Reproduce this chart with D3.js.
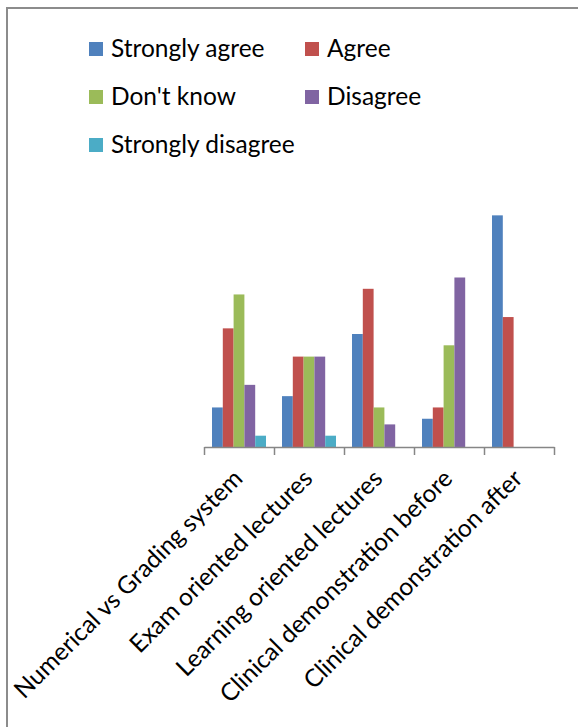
<!DOCTYPE html>
<html>
<head>
<meta charset="utf-8">
<script src="https://cdn.jsdelivr.net/npm/d3@7"></script>
<style>
  body { margin: 0; background: #fff; }
  svg text { font-family: Lato, "Noto Sans", sans-serif; fill: #000; }
</style>
</head>
<body>
<svg id="chart" width="578" height="727"></svg>
<script>
// categories along the x axis
const categories = [
  "Numerical vs Grading system",
  "Exam oriented lectures",
  "Learning oriented lectures",
  "Clinical demonstration before",
  "Clinical demonstration after"
];

// one series per answer
const seriesNames = ["Strongly agree", "Agree", "Don't know", "Disagree", "Strongly disagree"];
const seriesColors = ["#4F81BD", "#C0504D", "#9BBB59", "#8064A2", "#4BACC6"];

// values, one array per series (same order as categories)
const stronglyAgree = [7, 9, 20, 5, 41];
const agree = [21, 16, 28, 7, 23];
const dontKnow = [27, 16, 7, 18, 0];
const disagree = [11, 16, 4, 30, 0];
const stronglyDisagree = [2, 2, 0, 0, 0];

const seriesValues = [stronglyAgree, agree, dontKnow, disagree, stronglyDisagree];

function drawChart() {
  const svg = d3.select("#chart");

  // frame round the chart area (clipped at right and bottom like the picture)
  svg.append("path")
    .attr("d", "M7,727 L7,8 L578,8")
    .attr("fill", "none")
    .attr("stroke", "#8c8c8c")
    .attr("stroke-width", 2);

  const baseY = 447;
  const x0 = d3.scaleBand().domain(categories).range([204, 554]);
  const x1 = d3.scaleBand().domain(seriesNames).range([8, 62]);
  const y = d3.scaleLinear().domain([0, 45]).range([baseY, baseY - 45 * 5.65]);
  const color = d3.scaleOrdinal().domain(seriesNames).range(seriesColors);

  // bars
  const groups = svg.append("g")
    .selectAll("g")
    .data(categories)
    .enter()
    .append("g")
    .attr("transform", (d) => "translate(" + x0(d) + ",0)");

  groups.selectAll("rect")
    .data((c, i) => seriesNames.map((s, j) => ({ name: s, value: seriesValues[j][i] })))
    .enter()
    .append("rect")
    .attr("x", (d) => x1(d.name))
    .attr("y", (d) => y(d.value))
    .attr("width", x1.bandwidth())
    .attr("height", (d) => baseY - y(d.value))
    .attr("fill", (d) => color(d.name));

  // axis line with ticks on the category boundaries
  const edges = d3.scaleLinear().domain([0, categories.length]).range([204, 554]);
  const xAxis = svg.append("g")
    .attr("transform", "translate(0," + baseY + ")")
    .call(d3.axisBottom(edges).tickValues(d3.range(categories.length + 1)).tickSize(8).tickSizeOuter(0).tickFormat(""));
  xAxis.selectAll("path, line").attr("stroke", "#868686").attr("stroke-width", 1.5);

  // rotated category labels
  svg.append("g")
    .selectAll("text")
    .data(categories)
    .enter()
    .append("text")
    .attr("transform", (d) => "translate(" + (x0(d) + x0.bandwidth() / 2 + 5) + ",480) rotate(-45)")
    .attr("text-anchor", "end")
    .attr("font-size", "24.5px")
    .text((d) => d);

  // legend, two columns
  const legend = svg.append("g")
    .selectAll("g")
    .data(seriesNames)
    .enter()
    .append("g")
    .attr("transform", (d, i) => "translate(" + (i % 2 === 0 ? 89 : 305) + "," + (42 + Math.floor(i / 2) * 48) + ")");

  legend.append("rect")
    .attr("width", 14)
    .attr("height", 14)
    .attr("fill", (d) => color(d));

  legend.append("text")
    .attr("x", 22)
    .attr("y", 15)
    .attr("font-size", "24.5px")
    .text((d) => d);
}

drawChart();
</script>
</body>
</html>
